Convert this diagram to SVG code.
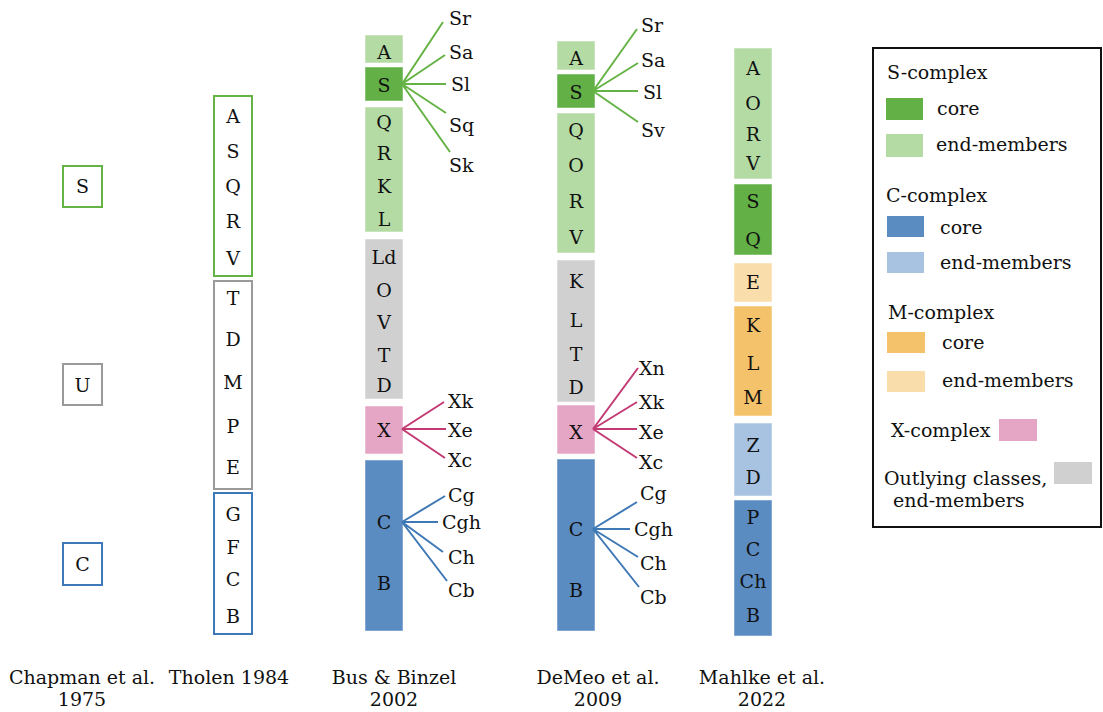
<svg xmlns="http://www.w3.org/2000/svg" width="1103" height="712" viewBox="0 0 1103 712">
<style>
text{font-family:"DejaVu Serif","Liberation Serif",serif;font-size:19px;fill:#111}
.c{text-anchor:middle}
.sc{fill:#62B046}.se{fill:#B4DBA4}.cc{fill:#5A8BC1}.ce{fill:#A8C3E1}
.mc{fill:#F4C26A}.me{fill:#F9DDAA}.xc{fill:#E5A6C5}.gr{fill:#D0D0D0}
.bar rect{stroke:#ffffff;stroke-opacity:0.5;stroke-width:1}
.ob{fill:#fff;stroke-width:2}
.gs{stroke:#66B345}.gg{stroke:#9A9A9A}.gb{stroke:#3E78B8}
.fs{stroke:#66B345;stroke-width:2;fill:none}
.fx{stroke:#C33A73;stroke-width:2;fill:none}
.fc{stroke:#3E78B5;stroke-width:2;fill:none}
</style>
<rect width="1103" height="712" fill="#fff"/>

<g id="chapman">
<rect class="ob gs" x="63" y="166" width="39" height="41"/>
<text class="c" x="82.5" y="193">S</text>
<rect class="ob gg" x="63" y="364" width="39" height="41"/>
<text class="c" x="82.5" y="392">U</text>
<rect class="ob gb" x="63" y="543" width="39" height="42"/>
<text class="c" x="82.5" y="571">C</text>
</g>

<g id="tholen">
<rect class="ob gs" x="214" y="96" width="38" height="180"/>
<rect class="ob gg" x="214" y="281" width="38" height="208"/>
<rect class="ob gb" x="214" y="493" width="38" height="141"/>
<text class="c" x="233" y="123">A</text>
<text class="c" x="233" y="158">S</text>
<text class="c" x="233" y="193">Q</text>
<text class="c" x="233" y="228">R</text>
<text class="c" x="233" y="265">V</text>
<text class="c" x="233" y="305">T</text>
<text class="c" x="233" y="346">D</text>
<text class="c" x="233" y="389">M</text>
<text class="c" x="233" y="433">P</text>
<text class="c" x="233" y="474">E</text>
<text class="c" x="233" y="521">G</text>
<text class="c" x="233" y="554">F</text>
<text class="c" x="233" y="586">C</text>
<text class="c" x="233" y="623">B</text>
</g>

<g id="bus" class="bar">
<rect class="se" x="365" y="35" width="38" height="28"/>
<rect class="sc" x="365" y="67" width="38" height="34"/>
<rect class="se" x="365" y="107" width="38" height="125"/>
<rect class="gr" x="365" y="239" width="38" height="160"/>
<rect class="xc" x="365" y="406" width="38" height="48"/>
<rect class="cc" x="365" y="460" width="38" height="171"/>
<text class="c" x="384" y="59">A</text>
<text class="c" x="384" y="92">S</text>
<text class="c" x="384" y="129">Q</text>
<text class="c" x="384" y="160">R</text>
<text class="c" x="384" y="193">K</text>
<text class="c" x="384" y="226">L</text>
<text class="c" x="384" y="264">Ld</text>
<text class="c" x="384" y="297">O</text>
<text class="c" x="384" y="329">V</text>
<text class="c" x="384" y="362">T</text>
<text class="c" x="384" y="392">D</text>
<text class="c" x="384" y="437">X</text>
<text class="c" x="384" y="529">C</text>
<text class="c" x="384" y="590">B</text>
<text x="449" y="25">Sr</text>
<text x="449" y="59">Sa</text>
<text x="451" y="91">Sl</text>
<text x="449" y="132">Sq</text>
<text x="449" y="172">Sk</text>
<text x="448" y="408">Xk</text>
<text x="448" y="437">Xe</text>
<text x="448" y="467">Xc</text>
<text x="448" y="502">Cg</text>
<text x="442" y="529">Cgh</text>
<text x="448" y="564">Ch</text>
<text x="448" y="597">Cb</text>
</g>

<g id="demeo" class="bar">
<rect class="se" x="557" y="41" width="38" height="29"/>
<rect class="sc" x="557" y="74" width="38" height="34"/>
<rect class="se" x="557" y="113" width="38" height="140"/>
<rect class="gr" x="557" y="260" width="38" height="142"/>
<rect class="xc" x="557" y="405" width="38" height="49"/>
<rect class="cc" x="557" y="459" width="38" height="172"/>
<text class="c" x="576" y="65">A</text>
<text class="c" x="576" y="99">S</text>
<text class="c" x="576" y="137">Q</text>
<text class="c" x="576" y="172">O</text>
<text class="c" x="576" y="208">R</text>
<text class="c" x="576" y="244">V</text>
<text class="c" x="576" y="288">K</text>
<text class="c" x="576" y="327">L</text>
<text class="c" x="576" y="361">T</text>
<text class="c" x="576" y="394">D</text>
<text class="c" x="576" y="439">X</text>
<text class="c" x="576" y="536">C</text>
<text class="c" x="576" y="597">B</text>
<text x="641" y="32">Sr</text>
<text x="641" y="67">Sa</text>
<text x="643" y="99">Sl</text>
<text x="641" y="137">Sv</text>
<text x="639" y="375">Xn</text>
<text x="639" y="409">Xk</text>
<text x="639" y="439">Xe</text>
<text x="639" y="469">Xc</text>
<text x="640" y="500">Cg</text>
<text x="634" y="536">Cgh</text>
<text x="640" y="570">Ch</text>
<text x="640" y="604">Cb</text>
</g>

<g id="mahlke" class="bar">
<rect class="se" x="734" y="48" width="38" height="131"/>
<rect class="sc" x="734" y="184" width="38" height="71"/>
<rect class="me" x="734" y="263" width="38" height="39"/>
<rect class="mc" x="734" y="306" width="38" height="110"/>
<rect class="ce" x="734" y="423" width="38" height="73"/>
<rect class="cc" x="734" y="500" width="38" height="136"/>
<text class="c" x="753" y="75">A</text>
<text class="c" x="753" y="110">O</text>
<text class="c" x="753" y="141">R</text>
<text class="c" x="753" y="170">V</text>
<text class="c" x="753" y="208">S</text>
<text class="c" x="753" y="246">Q</text>
<text class="c" x="753" y="289">E</text>
<text class="c" x="753" y="332">K</text>
<text class="c" x="753" y="370">L</text>
<text class="c" x="753" y="404">M</text>
<text class="c" x="753" y="452">Z</text>
<text class="c" x="753" y="484">D</text>
<text class="c" x="753" y="524">P</text>
<text class="c" x="753" y="556">C</text>
<text class="c" x="753" y="588">Ch</text>
<text class="c" x="753" y="622">B</text>
</g>

<g id="connectors">
<path class="fs" d="M402 84L443 22M402 84L445 55M402 84L446 84M402 84L446 113M402 84L450 152"/>
<path class="fx" d="M402 429L444 402M402 429L446 429M402 429L445 458"/>
<path class="fc" d="M402 522L445 496M402 522L438 522M402 522L443 552M402 522L447 581"/>
<path class="fs" d="M593 91L637 29M593 91L638 63M593 91L638 91M593 91L638 122"/>
<path class="fx" d="M593 429L638 368M593 429L637 402M593 429L637 429M593 429L637 458"/>
<path class="fc" d="M593 529L637 502M593 529L630 529M593 529L638 557M593 529L639 587"/>
</g>

<g id="legend">
<rect x="873" y="48" width="228" height="479" fill="#fff" stroke="#111" stroke-width="2"/>
<text x="887" y="79">S-complex</text>
<rect class="sc" x="886" y="98" width="37" height="22"/>
<text x="937" y="115">core</text>
<rect class="se" x="886" y="134" width="37" height="23"/>
<text x="936" y="151">end-members</text>
<text x="886" y="202">C-complex</text>
<rect class="cc" x="887" y="216" width="37" height="21"/>
<text x="940" y="234">core</text>
<rect class="ce" x="887" y="252" width="37" height="21"/>
<text x="940" y="269">end-members</text>
<text x="888" y="319">M-complex</text>
<rect class="mc" x="887" y="332" width="38" height="21"/>
<text x="942" y="349">core</text>
<rect class="me" x="887" y="371" width="38" height="21"/>
<text x="942" y="387">end-members</text>
<text x="891" y="437">X-complex</text>
<rect class="xc" x="999" y="419" width="38" height="22"/>
<text x="884" y="485">Outlying classes,</text>
<text x="893" y="507">end-members</text>
<rect class="gr" x="1054" y="462" width="38" height="22"/>
</g>

<g id="labels">
<text class="c" x="82" y="684">Chapman et al.</text>
<text class="c" x="82" y="706">1975</text>
<text class="c" x="229" y="684">Tholen 1984</text>
<text class="c" x="394" y="684">Bus &amp; Binzel</text>
<text class="c" x="394" y="706">2002</text>
<text class="c" x="598" y="684">DeMeo et al.</text>
<text class="c" x="598" y="706">2009</text>
<text class="c" x="762" y="684">Mahlke et al.</text>
<text class="c" x="762" y="706">2022</text>
</g>
</svg>
